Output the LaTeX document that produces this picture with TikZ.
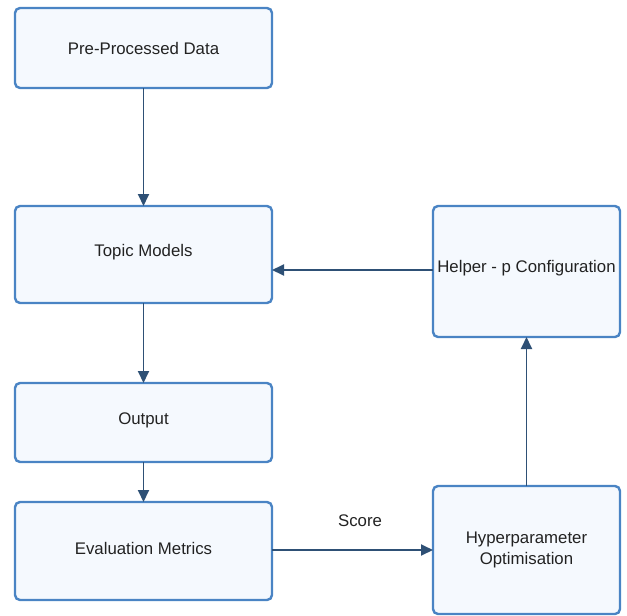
\documentclass[tikz,border=0pt]{standalone}
\usepackage{fontspec}
\setmainfont{Liberation Sans}
\usetikzlibrary{arrows.meta}
\definecolor{boxfill}{HTML}{F5F9FE}
\definecolor{boxline}{HTML}{4A84C4}
\definecolor{arrowc}{HTML}{2E5075}
\definecolor{textc}{HTML}{222222}
\begin{document}
\begin{tikzpicture}[x=1pt,y=-1pt,
  blk/.style={draw=boxline,fill=boxfill,line width=2.4pt,rounded corners=5pt,inner sep=0pt},
  lbl/.style={font=\fontsize{16.8}{20}\selectfont,text=textc,align=center},
  conn/.style={draw=arrowc,line width=1.9pt,-{Triangle[length=12pt,width=11pt]}}]
\useasboundingbox (0,0) rectangle (627,616);
% boxes
\draw[blk] (15,8) rectangle (272,88);
\node[lbl] (pre) at (143.5,48) {Pre-Processed Data};
\draw[blk] (15,206) rectangle (272,303);
\node[lbl] (topic) at (143.5,252) {Topic Models};
\draw[blk] (15,383) rectangle (272,462);
\node[lbl] (out) at (143.5,420) {Output};
\draw[blk] (15,502) rectangle (272,600);
\node[lbl] (eval) at (143.5,548) {Evaluation Metrics};
\draw[blk] (433,206) rectangle (620,337);
\node[lbl] (help) at (526.5,268) {Helper - p Configuration};
\draw[blk] (433,486) rectangle (620,614);
\node[lbl,text width=180pt,font=\fontsize{16.8}{21}\selectfont] (hyp) at (526.5,550) {Hyperparameter\\Optimisation};
\node[lbl] (score) at (360,521) {Score};
% anchor coordinates on box edges
\coordinate (preS) at (143.5,88);
\coordinate (topN) at (143.5,206);
\coordinate (topS) at (143.5,303);
\coordinate (topE) at (272,270);
\coordinate (outN) at (143.5,383);
\coordinate (outS) at (143.5,462);
\coordinate (evN) at (143.5,502);
\coordinate (evE) at (272,550);
\coordinate (hyW) at (433,550);
\coordinate (hyN) at (526.5,486);
\coordinate (heS) at (526.5,337);
\coordinate (heW) at (433,270);
% connectors
\draw[conn] (preS) -- (topN);
\draw[conn] (topS) -- (outN);
\draw[conn] (outS) -- (evN);
\draw[conn] (evE) -- (hyW);
\draw[conn] (hyN) -- (heS);
\draw[conn] (heW) -- (topE);
\end{tikzpicture}
\end{document}
